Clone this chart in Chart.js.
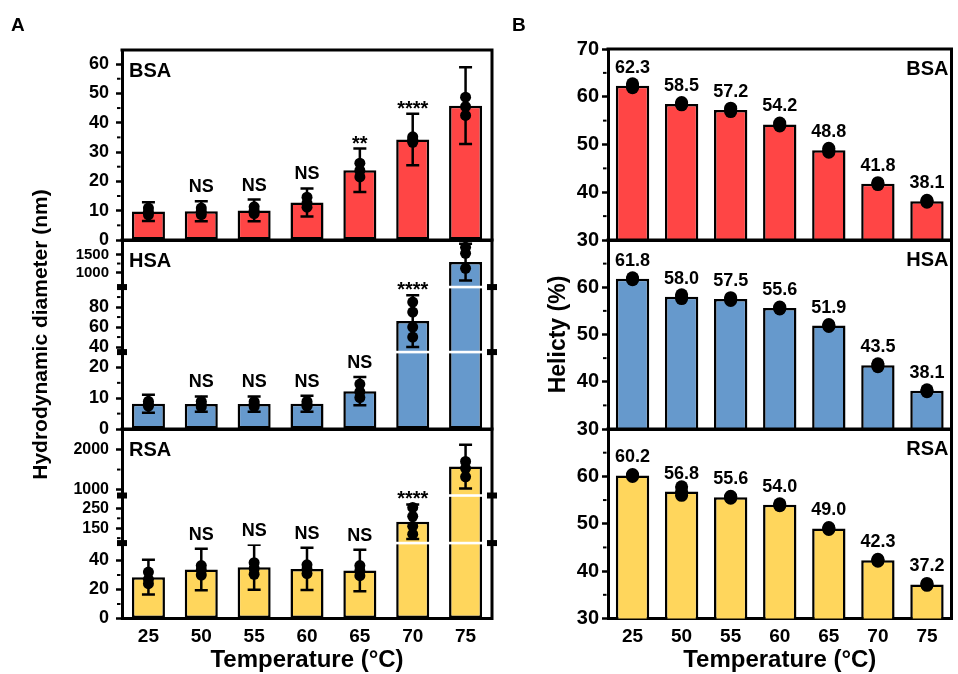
<!DOCTYPE html>
<html><head><meta charset="utf-8">
<script src="https://cdn.jsdelivr.net/npm/chart.js@4.4.1/dist/chart.umd.min.js"></script>
<style>
html,body{margin:0;padding:0;background:#fff;}
#wrap{position:relative;width:958px;height:674px;overflow:hidden;background:#fff;}
#wrap canvas{position:absolute;left:0;top:0;}
.panel{position:absolute;font:bold 19px "Liberation Sans",Arial,sans-serif;color:#000;line-height:22px;}
</style></head>
<body><div id="wrap">
<canvas id="aBSA" width="958" height="674"></canvas>
<canvas id="aHSA" width="958" height="674"></canvas>
<canvas id="aRSA" width="958" height="674"></canvas>
<canvas id="bBSA" width="958" height="674"></canvas>
<canvas id="bHSA" width="958" height="674"></canvas>
<canvas id="bRSA" width="958" height="674"></canvas>
<div class="panel" style="left:11px;top:14px">A</div>
<div class="panel" style="left:512px;top:14px">B</div>
</div>
<script>
// ---------------- DATA ----------------
const temperatures = ['25', '50', '55', '60', '65', '70', '75'];

// Panel A: hydrodynamic diameter (nm)
const bsaDiameter = [9.7, 9.8, 10.1, 12.8, 23.8, 34.3, 45.8];
const bsaDiameterSD = [3.2, 3.4, 3.7, 4.8, 7.4, 8.8, 13.1];
const bsaDiameterReps = [[8.6, 9.6, 10.9], [8.7, 9.8, 10.9], [9.0, 10.0, 11.3], [11.2, 12.6, 14.6], [21.5, 23.7, 26.2], [33.3, 34.4, 35.2], [42.5, 45.5, 48.7]];
const bsaSignificance = ['', 'NS', 'NS', 'NS', '**', '****', ''];

const hsaDiameter = [8.2, 8.1, 8.1, 8.2, 12.3, 66.0, 1290];
const hsaDiameterSD = [2.9, 2.5, 2.5, 2.6, 4.6, 25.8, 507];
const hsaDiameterReps = [[7.4, 8.2, 9.0], [7.2, 8.1, 9.0], [7.3, 8.1, 8.9], [7.4, 8.2, 9.0], [10.2, 12.1, 14.6], [50, 60, 75, 85], [1117, 1532, 1698]];
const hsaSignificance = ['', 'NS', 'NS', 'NS', 'NS', '****', ''];

const rsaDiameter = [28.5, 33.8, 35.3, 34.2, 33.1, 183, 1573];
const rsaDiameterSD = [12.0, 14.3, 15.5, 14.6, 14.3, 87, 541];
const rsaDiameterReps = [[24, 27, 32], [30, 33.5, 36.5], [30.5, 34.5, 38.5], [31, 34, 37], [29.5, 33, 36.5], [120, 160, 210, 255], [1320, 1530, 1700]];
const rsaSignificance = ['', 'NS', 'NS', 'NS', 'NS', '****', ''];

// Panel B: helicity (%)
const bsaHelicity = [62.3, 58.5, 57.2, 54.2, 48.8, 41.8, 38.1];
const bsaHelicitySD = [0.4, 0.3, 0.4, 0.3, 0.4, 0.2, 0.2];
const bsaHelicityReps = [[61.9, 62.3, 62.7], [58.3, 58.5, 58.8], [56.9, 57.2, 57.6], [53.9, 54.2, 54.5], [48.4, 48.8, 49.2], [41.6, 41.8, 42.0], [37.9, 38.1, 38.3]];
const hsaHelicity = [61.8, 58.0, 57.5, 55.6, 51.9, 43.5, 38.1];
const hsaHelicitySD = [0.2, 0.4, 0.3, 0.2, 0.2, 0.3, 0.2];
const hsaHelicityReps = [[61.6, 61.8, 62.0], [57.6, 58.0, 58.4], [57.2, 57.5, 57.8], [55.4, 55.6, 55.8], [51.7, 51.9, 52.1], [43.2, 43.5, 43.8], [37.9, 38.1, 38.3]];
const rsaHelicity = [60.2, 56.8, 55.6, 54.0, 49.0, 42.3, 37.2];
const rsaHelicitySD = [0.2, 0.9, 0.2, 0.2, 0.2, 0.2, 0.2];
const rsaHelicityReps = [[60.0, 60.2, 60.4], [56.0, 56.8, 57.8], [55.4, 55.6, 55.8], [53.8, 54.0, 54.2], [48.8, 49.0, 49.2], [42.1, 42.3, 42.5], [37.0, 37.2, 37.4]];

// Tick labels
const bsaDiameterTicks = [0, 10, 20, 30, 40, 50, 60];
const bsaDiameterMinor = [5, 15, 25, 35, 45, 55];
const hsaDiameterTicks = [0, 10, 20, 40, 60, 80, 1000, 1500];
const hsaDiameterMinor = [5, 15, 50, 70, 90, 1250];
const rsaDiameterTicks = [0, 20, 40, 150, 250, 1000, 2000];
const rsaDiameterMinor = [10, 30, 100, 200, 1500];
const bsaHelicityTicks = [30, 40, 50, 60, 70];
const helicityTicks = [30, 40, 50, 60];
const helicityMinor = [35, 45, 55, 65];

// ---------------- AXIS SEGMENTS (broken axes) ----------------
const SEGMENTS = {
  bsaA: [{min: 0, max: 64.8, from: 0, to: 1}],
  hsaA: [{min: 0, max: 25, from: 0, to: 0.407}, {min: 35, max: 100, from: 0.407, to: 0.751}, {min: 600, max: 1900, from: 0.751, to: 1}],
  rsaA: [{min: 0, max: 52, from: 0, to: 0.398}, {min: 75, max: 315, from: 0.398, to: 0.649}, {min: 860, max: 2500, from: 0.649, to: 1}],
  helB: [{min: 30, max: 70, from: 0, to: 1}]
};

const FONT = '"Liberation Sans", Arial, Helvetica, sans-serif';
Chart.defaults.font.family = FONT;
Chart.defaults.color = '#000';

const Linear = Chart.LinearScale || Chart.registry.getScale('linear');
class BrokenScale extends Linear {
  segs() { return SEGMENTS[this.options.segKey]; }
  buildTicks() { return this.options.tickValues.map(v => ({value: v})); }
  fracFor(v) {
    const segs = this.segs();
    for (let k = 0; k < segs.length; k++) {
      const s = segs[k];
      if (v <= s.max || k === segs.length - 1) {
        if (v < s.min && k > 0) return s.from;
        return s.from + (v - s.min) / (s.max - s.min) * (s.to - s.from);
      }
      if (k < segs.length - 1 && v > s.max && v < segs[k + 1].min) return s.to;
    }
    return 1;
  }
  getPixelForValue(v) {
    if (v === null || v === undefined || isNaN(v)) return NaN;
    return this.bottom - this.fracFor(v) * (this.bottom - this.top);
  }
  getValueForPixel(p) {
    const f = (this.bottom - p) / (this.bottom - this.top);
    const segs = this.segs();
    let s = segs[segs.length - 1];
    for (const seg of segs) { if (f <= seg.to) { s = seg; break; } }
    return s.min + (f - s.from) / (s.to - s.from) * (s.max - s.min);
  }
}
BrokenScale.id = 'broken';
BrokenScale.defaults = {};
Chart.register(BrokenScale);

function decor(s) {
  return {
    id: 'decor',
    afterDatasetsDraw(chart) {
      const {ctx, chartArea: ca} = chart;
      const x = chart.scales.x, y = chart.scales.y;
      ctx.save();
      // error bars
      ctx.strokeStyle = '#000';
      ctx.lineWidth = 2.5;
      s.values.forEach((m, i) => {
        const px = x.getPixelForValue(i);
        const yt = y.getPixelForValue(m + s.sd[i]);
        const yb = y.getPixelForValue(m - s.sd[i]);
        ctx.beginPath();
        ctx.moveTo(px, yt); ctx.lineTo(px, yb);
        ctx.moveTo(px - s.cap, yt); ctx.lineTo(px + s.cap, yt);
        ctx.moveTo(px - s.cap, yb); ctx.lineTo(px + s.cap, yb);
        ctx.stroke();
      });
      // axis breaks
      const segs = SEGMENTS[s.segKey];
      for (let k = 0; k < segs.length - 1; k++) {
        const py = ca.bottom - segs[k].to * (ca.bottom - ca.top);
        ctx.fillStyle = '#fff';
        ctx.fillRect(ca.left + 2, py - 1.3, ca.right - ca.left - 4, 2.6);
        ctx.fillStyle = '#000';
        ctx.fillRect(ca.left - 5, py - 3, 10, 6);
        ctx.fillRect(ca.right - 5, py - 3, 10, 6);
      }
      // top and right frame
      ctx.strokeStyle = '#000';
      ctx.lineWidth = 3;
      ctx.beginPath();
      ctx.moveTo(ca.left - 1.5, ca.top);
      ctx.lineTo(ca.right, ca.top);
      ctx.lineTo(ca.right, ca.bottom + 1.5);
      ctx.stroke();
      // minor ticks
      ctx.lineWidth = 2;
      s.minor.forEach(v => {
        const py = y.getPixelForValue(v);
        ctx.beginPath(); ctx.moveTo(ca.left - 5, py); ctx.lineTo(ca.left - 1.5, py); ctx.stroke();
      });
      ctx.fillStyle = '#000';
      ctx.textAlign = 'center';
      ctx.textBaseline = 'alphabetic';
      // significance labels
      if (s.sig) {
        s.sig.forEach((t, i) => {
          if (!t) return;
          const px = x.getPixelForValue(i);
          const yt = y.getPixelForValue(s.values[i] + s.sd[i]);
          if (t === 'NS') {
            ctx.font = 'bold 18px ' + FONT;
            ctx.fillText(t, px, yt - 9);
          } else {
            ctx.font = 'bold 20px ' + FONT;
            ctx.fillText(t, px, yt + 1);
          }
        });
      }
      // value labels
      if (s.valueLabels) {
        ctx.font = 'bold 18px ' + FONT;
        s.values.forEach((v, i) => {
          const px = x.getPixelForValue(i);
          const py = y.getPixelForValue(v);
          ctx.fillText(v.toFixed(1), px, py - 13);
        });
      }
      // subplot name
      ctx.font = 'bold 20px ' + FONT;
      if (s.nameAlign === 'left') {
        ctx.textAlign = 'left';
        ctx.fillText(s.name, ca.left + 7, ca.top + 27);
      } else {
        ctx.textAlign = 'right';
        ctx.fillText(s.name, ca.right - 3, ca.top + 26);
      }
      ctx.restore();
    }
  };
}

function makeChart(id, s) {
  const isA = s.panel === 'A';
  const titleSize = isA ? 21 : 23;
  const padL = (isA ? 41 : 559) - titleSize * 0.6;
  const caLeft = isA ? 122 : 608;
  const caRight = isA ? 492 : 958;
  const yW = caLeft - padL;
  const segs = SEGMENTS[s.segKey];
  const bottomAxisH = s.showX ? 674 - s.band[1] : 0;
  return new Chart(document.getElementById(id), {
    type: 'bar',
    data: {
      labels: temperatures,
      datasets: [
        {
          type: 'line',
          data: s.reps.flatMap((arr, i) => arr.map(v => ({x: temperatures[i], y: v}))),
          showLine: false, pointRadius: s.dotR, pointHoverRadius: s.dotR,
          pointBackgroundColor: '#000', pointBorderColor: '#000', pointBorderWidth: 0, order: 0
        },
        {
          type: 'bar', data: s.values, backgroundColor: s.color, borderColor: '#000',
          borderWidth: 2.5, borderSkipped: false, barPercentage: s.barPct, categoryPercentage: 1, order: 1
        }
      ]
    },
    options: {
      responsive: false, animation: false, devicePixelRatio: 1, events: [],
      layout: {padding: {left: padL, right: 958 - caRight, top: s.band[0], bottom: s.showX ? 0 : 674 - s.band[1]}},
      plugins: {legend: {display: false}, tooltip: {enabled: false}},
      scales: {
        x: {
          type: 'category', offset: true,
          grid: {display: false, drawTicks: false},
          border: {display: true, width: 3, color: '#000'},
          ticks: {display: s.showX, font: {family: FONT, weight: 'bold', size: 19}, color: '#000', padding: 7, maxRotation: 0, autoSkip: false},
          title: {display: s.showX, text: 'Temperature (°C)', font: {family: FONT, weight: 'bold', size: 24}, color: '#000', padding: {top: 0, bottom: -1}},
          afterFit: sc => { sc.height = bottomAxisH; }
        },
        y: {
          type: 'broken', segKey: s.segKey, tickValues: s.ticks,
          min: segs[0].min, max: segs[segs.length - 1].max,
          grid: {display: true, drawOnChartArea: false, drawTicks: true, tickLength: 6, tickWidth: 2.5, tickColor: '#000', color: '#000'},
          border: {display: true, width: 3, color: '#000'},
          ticks: {
            autoSkip: false, color: '#000', padding: isA ? 7 : 3,
            font: c => ({family: FONT, weight: 'bold', size: s.tickSize(c.tick ? c.tick.value : 0)}),
            callback: v => String(v)
          },
          title: {display: !!s.yTitle, text: s.yTitle || '', font: {family: FONT, weight: 'bold', size: titleSize}, color: '#000', padding: 0},
          afterFit: sc => { sc.width = yW; }
        }
      }
    },
    plugins: [decor(s)]
  });
}

const RED = '#FF4545', BLUE = '#6699CC', YELLOW = '#FFD65C';

makeChart('aBSA', {panel: 'A', band: [50, 240], segKey: 'bsaA', values: bsaDiameter, sd: bsaDiameterSD, reps: bsaDiameterReps,
  sig: bsaSignificance, ticks: bsaDiameterTicks, minor: bsaDiameterMinor, color: RED, name: 'BSA', nameAlign: 'left',
  showX: false, yTitle: null, dotR: 5.5, cap: 6.5, barPct: 0.625, tickSize: () => 18});
makeChart('aHSA', {panel: 'A', band: [240, 429], segKey: 'hsaA', values: hsaDiameter, sd: hsaDiameterSD, reps: hsaDiameterReps,
  sig: hsaSignificance, ticks: hsaDiameterTicks, minor: hsaDiameterMinor, color: BLUE, name: 'HSA', nameAlign: 'left',
  showX: false, yTitle: 'Hydrodynamic diameter (nm)', dotR: 5.5, cap: 6.5, barPct: 0.625, tickSize: v => v >= 1000 ? 15 : 18});
makeChart('aRSA', {panel: 'A', band: [429, 618.5], segKey: 'rsaA', values: rsaDiameter, sd: rsaDiameterSD, reps: rsaDiameterReps,
  sig: rsaSignificance, ticks: rsaDiameterTicks, minor: rsaDiameterMinor, color: YELLOW, name: 'RSA', nameAlign: 'left',
  showX: true, yTitle: null, dotR: 5.5, cap: 6.5, barPct: 0.625, tickSize: v => v >= 100 ? 16 : 18});

makeChart('bBSA', {panel: 'B', band: [49, 240], segKey: 'helB', values: bsaHelicity, sd: bsaHelicitySD, reps: bsaHelicityReps,
  valueLabels: true, ticks: bsaHelicityTicks, minor: helicityMinor, color: RED, name: 'BSA', nameAlign: 'right',
  showX: false, yTitle: null, dotR: 6.5, cap: 6, barPct: 0.68, tickSize: () => 20});
makeChart('bHSA', {panel: 'B', band: [240, 429], segKey: 'helB', values: hsaHelicity, sd: hsaHelicitySD, reps: hsaHelicityReps,
  valueLabels: true, ticks: helicityTicks, minor: helicityMinor, color: BLUE, name: 'HSA', nameAlign: 'right',
  showX: false, yTitle: 'Helicty (%)', dotR: 6.5, cap: 6, barPct: 0.68, tickSize: () => 20});
makeChart('bRSA', {panel: 'B', band: [429, 618.5], segKey: 'helB', values: rsaHelicity, sd: rsaHelicitySD, reps: rsaHelicityReps,
  valueLabels: true, ticks: helicityTicks, minor: helicityMinor, color: YELLOW, name: 'RSA', nameAlign: 'right',
  showX: true, yTitle: null, dotR: 6.5, cap: 6, barPct: 0.68, tickSize: () => 20});
</script>
</body></html>
